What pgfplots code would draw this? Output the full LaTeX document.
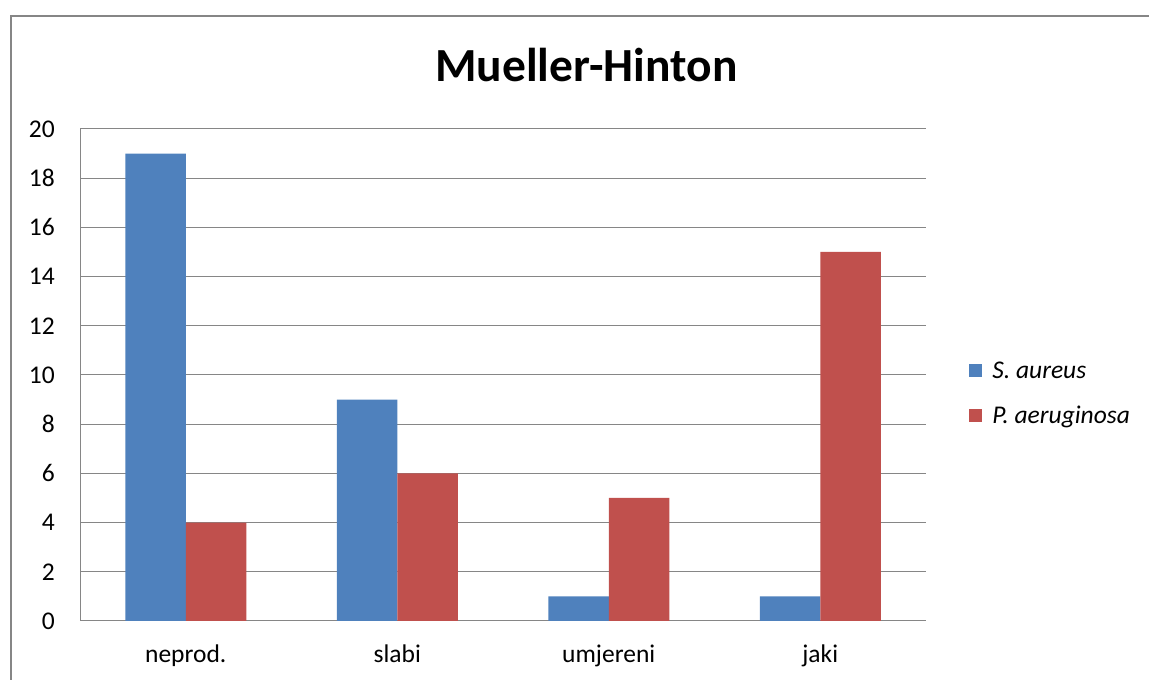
\documentclass[border=0pt]{standalone}
\usepackage{fontspec}
\setmainfont{Carlito}
\usepackage{pgfplots}
\pgfplotsset{compat=1.18}
\definecolor{sblue}{HTML}{4F81BD}
\definecolor{sred}{HTML}{C0504D}
\definecolor{axgray}{HTML}{868686}
\begin{document}
\begin{tikzpicture}
\useasboundingbox (0pt,0pt) rectangle (1149pt,680pt);
% chart frame, cut off at right and bottom
\draw[axgray, line width=1.3pt] (11pt,-10pt) -- (11pt,664pt) -- (1170pt,664pt);
\node[anchor=base, inner sep=0pt, font=\fontsize{47.5}{56}\selectfont\bfseries] at (586.5pt,598pt) {Mueller-Hinton};
\begin{axis}[
    at={(80pt,59pt)}, anchor=south west,
    width=846pt, height=492pt, scale only axis,
    ybar, bar width=60.5pt,
    xmin=-0.5, xmax=3.5, ymin=0, ymax=20,
    xtick={0,1,2,3},
    xticklabels={neprod., slabi, umjereni, jaki},
    ytick={0,2,...,20},
    axis x line=bottom, axis y line=left,
    axis line style={axgray, line width=1pt, -},
    ymajorgrids, grid style={axgray, line width=1pt},
    major tick length=0pt,
    tick label style={font=\fontsize{25.5}{30}\selectfont},
    /pgf/number format/assume math mode=true,
    yticklabel style={anchor=east, inner sep=0pt, xshift=-25pt},
    xticklabel style={anchor=base, inner sep=0pt, yshift=-42pt},
    legend style={at={(1.051,0.4624)}, anchor=west, draw=none, fill=none,
        font=\fontsize{25.5}{30}\selectfont\itshape, inner sep=0pt,
        row sep=22pt, cells={anchor=west},
        /tikz/every odd column/.append style={column sep=8pt}},
    legend image code/.code={\fill[#1] (0pt,-6.5pt) rectangle (13pt,6.5pt);},
]
\addplot[fill=sblue, draw=none, bar shift=-30.25pt] coordinates {(0,19) (1,9) (2,1) (3,1)};
\addlegendentry{S. aureus}
\addplot[fill=sred, draw=none, bar shift=30.25pt] coordinates {(0,4) (1,6) (2,5) (3,15)};
\addlegendentry{P. aeruginosa}
\end{axis}
\end{tikzpicture}
\end{document}
